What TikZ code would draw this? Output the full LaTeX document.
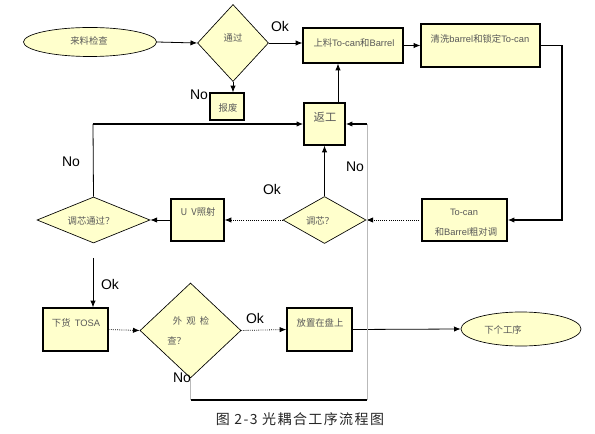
\documentclass[tikz,border=0pt]{standalone}
\usepackage{fontspec}
\setmainfont{Liberation Sans}
\newfontfamily\cjk{Noto Sans CJK SC}
\newfontfamily\cjkcap[LetterSpace=10]{Noto Sans CJK SC}
\usetikzlibrary{shapes.geometric,arrows.meta}
\definecolor{boxfill}{HTML}{FFFFCC}
\definecolor{txtgray}{HTML}{585858}
\newcommand{\zh}[1]{{\cjk #1}}
\begin{document}
\begin{tikzpicture}[x=0.75pt,y=-0.75pt,
  box/.style={draw=black,line width=1pt,fill=boxfill,rectangle,inner sep=0pt},
  dia/.style={draw=black,line width=0.5pt,fill=boxfill,diamond,inner sep=0pt},
  ell/.style={draw=black,line width=0.5pt,fill=boxfill,ellipse,inner sep=0pt},
  txt/.style={text=txtgray,font=\fontsize{7}{8}\selectfont,inner sep=0pt},
  lbl/.style={font=\fontsize{10.5}{12}\selectfont,inner sep=0pt},
  arr/.style={-{Latex[length=5pt,width=4pt]},line width=0.6pt},
  dotarr/.style={arr,densely dotted},
  heavy/.style={line width=1.2pt},
  light/.style={draw=gray!55,line width=0.6pt}
]
\useasboundingbox (0,0) rectangle (595,434);

% shapes
\node[ell,minimum width=99.75pt,minimum height=21.75pt] (e1) at (90,42) {};
\node[dia,minimum width=53.25pt,minimum height=57.75pt] (d1) at (233,43) {};
\node[box,minimum width=25.5pt,minimum height=20.25pt] (b0) at (227,106.5) {};
\node[box,minimum width=75pt,minimum height=26.25pt] (b1) at (353,45.5) {};
\node[box,minimum width=89.25pt,minimum height=32.25pt] (b2) at (480.5,45.5) {};
\node[box,minimum width=30.75pt,minimum height=31.5pt] (b3) at (324.5,124) {};
\node[box,minimum width=63.75pt,minimum height=31.5pt] (b4) at (464.5,220) {};
\node[dia,minimum width=62.25pt,minimum height=35.25pt] (d2) at (324.5,220) {};
\node[box,minimum width=39.75pt,minimum height=31.5pt] (b5) at (197.5,220) {};
\node[dia,minimum width=84.75pt,minimum height=34.5pt] (d3) at (93.5,220) {};
\node[box,minimum width=48.75pt,minimum height=32.25pt] (b6) at (75.5,329.5) {};
\node[dia,minimum width=75.75pt,minimum height=71.25pt] (d4) at (190.5,330.5) {};
\node[box,minimum width=48.75pt,minimum height=32.25pt] (b7) at (319.5,329.5) {};
\node[ell,minimum width=90pt,minimum height=25.5pt] (e2) at (521,329) {};

% texts
\node[txt] (t1) at (89,41) {\zh{来料检查}};
\node[txt] (t2) at (233,38) {\zh{通过}};
\node[txt] (t3) at (228,108) {\zh{报废}};
\node[txt] (t4) at (354,43) {\zh{上料}To-can\zh{和}Barrel};
\node[txt] (t5) at (480,39) {\zh{清洗}barrel\zh{和锁定}To-can};
\node[txt,font=\fontsize{8.5}{10}\selectfont] (t6) at (325,117) {\zh{返工}};
\node[txt] (t7) at (464,212) {To-can};
\node[txt] (t8) at (466,232) {\zh{和}Barrel\zh{粗对调}};
\node[txt] (t9) at (320,221) {\zh{调芯？}};
\node[txt] (t10) at (198,212) {\zh{U\ \ V照射}};
\node[txt] (t11) at (91,221) {\zh{调芯通过？}};
\node[txt] (t12) at (76,323) {\zh{下货} \,TOSA};
\node[txt] (t13) at (191,321) {\zh{外\ \ 观\ \ 检}};
\node[txt,anchor=west] (t14) at (167,341) {\zh{查？}};
\node[txt] (t15) at (320,323) {\zh{放置在盘上}};
\node[txt] (t16) at (503,330) {\zh{下个工序}};

% labels
\node[lbl] (l1) at (280,27) {Ok};
\node[lbl] (l2) at (199,95) {No};
\node[lbl] (l3) at (355,167) {No};
\node[lbl] (l4) at (272,189) {Ok};
\node[lbl] (l5) at (71,162) {No};
\node[lbl] (l6) at (110,284) {Ok};
\node[lbl] (l7) at (255,318) {Ok};
\node[lbl] (l8) at (182,378) {No};
\node[text=black!85,font=\cjkcap\fontsize{10.5}{12}\selectfont,inner sep=0pt] (cap) at (300,419) {图 2-3 光耦合工序流程图};

% helper coordinates
\coordinate (c1) at (562,130);
\coordinate (c2) at (338,0);
\coordinate (c3) at (93,258);
\coordinate (c4) at (367,400);
\coordinate (c5) at (93,124);

% connectors
\draw[arr] (e1.east) -- (d1.west);
\draw[arr] (d1.east) -- (d1.east -| b1.west);
\draw[arr] (d1.south) -- (d1.south |- b0.north);
\draw[arr] (b1.east) -- (b2.west);
\draw[line width=1pt] (b2.east) -| (c1);
\draw[arr,line width=1pt] (c1) |- (b4.east);
\draw[dotarr] (b4.west) -- (d2.east);
\draw[dotarr] (d2.west) -- (b5.east);
\draw[arr] (b5.west) -- (d3.east);
\draw[arr] (d2.north) -- (b3.south);
\draw[arr] (c2 |- b3.north) -- (c2 |- b1.south);
\draw[line width=0.6pt] (d3.north) -- (c5);
\draw[arr,heavy] (c5) -- (b3.west);
\draw[arr] (c3) -- (c3 |- b6.north);
\draw[dotarr] (b6.east) -- (d4.west);
\draw[dotarr] (d4.east) -- (b7.west);
\draw[arr] (b7.east) -- (e2.west);
\draw[light] (d4.south) -- (d4.south |- c4);
\draw[heavy] (d4.south |- c4) -- (c4);
\draw[light] (c4) -- (c4 |- b3.east);
\draw[arr,heavy] (c4 |- b3.east) -- (b3.east);
\end{tikzpicture}
\end{document}
